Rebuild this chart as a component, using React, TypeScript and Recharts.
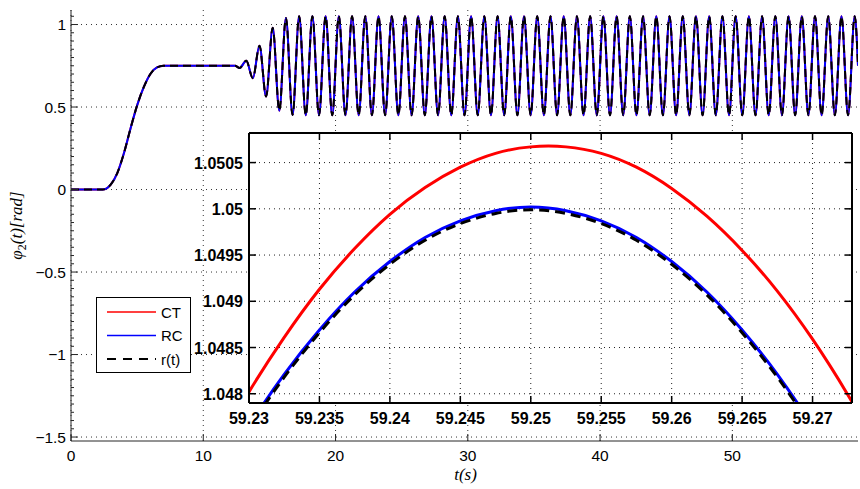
import { LineChart, Line, XAxis, YAxis, CartesianGrid, Label } from "recharts";

const FONT = "'Liberation Sans', Arial, Helvetica, sans-serif";
const MATH_FONT = "'Liberation Serif', 'Times New Roman', serif";

// full run of phi2(t): CT, RC and r(t) lie on top of each other at this scale
const rampTime = [0, 2.4, 3.0, 3.5, 4.0, 4.5, 5.0, 5.5, 6.0, 6.5, 7.0, 12.4];
const rampPhi = [0, 0, 0.03, 0.1, 0.22, 0.37, 0.51, 0.62, 0.7, 0.74, 0.75, 0.75];

// oscillation building up
const onsetTime = [12.75, 13.25, 13.75, 14.25, 14.75, 15.25, 15.75, 16.25, 16.75];
const onsetPhi = [0.737, 0.78, 0.675, 0.872, 0.564, 0.98, 0.478, 1.04, 0.452];

// steady oscillation, peaks and troughs
const steadyTime = [
  17.25, 17.75, 18.25, 18.75, 19.25, 19.75, 20.25, 20.75, 21.25, 21.75,
  22.25, 22.75, 23.25, 23.75, 24.25, 24.75, 25.25, 25.75, 26.25, 26.75,
  27.25, 27.75, 28.25, 28.75, 29.25, 29.75, 30.25, 30.75, 31.25, 31.75,
  32.25, 32.75, 33.25, 33.75, 34.25, 34.75, 35.25, 35.75, 36.25, 36.75,
  37.25, 37.75, 38.25, 38.75, 39.25, 39.75, 40.25, 40.75, 41.25, 41.75,
  42.25, 42.75, 43.25, 43.75, 44.25, 44.75, 45.25, 45.75, 46.25, 46.75,
  47.25, 47.75, 48.25, 48.75, 49.25, 49.75, 50.25, 50.75, 51.25, 51.75,
  52.25, 52.75, 53.25, 53.75, 54.25, 54.75, 55.25, 55.75, 56.25, 56.75,
  57.25, 57.75, 58.25, 58.75, 59.25, 59.5,
];
const steadyPhi = [
  1.05, 0.45, 1.05, 0.45, 1.05, 0.45, 1.05, 0.45, 1.05, 0.45,
  1.05, 0.45, 1.05, 0.45, 1.05, 0.45, 1.05, 0.45, 1.05, 0.45,
  1.05, 0.45, 1.05, 0.45, 1.05, 0.45, 1.05, 0.45, 1.05, 0.45,
  1.05, 0.45, 1.05, 0.45, 1.05, 0.45, 1.05, 0.45, 1.05, 0.45,
  1.05, 0.45, 1.05, 0.45, 1.05, 0.45, 1.05, 0.45, 1.05, 0.45,
  1.05, 0.45, 1.05, 0.45, 1.05, 0.45, 1.05, 0.45, 1.05, 0.45,
  1.05, 0.45, 1.05, 0.45, 1.05, 0.45, 1.05, 0.45, 1.05, 0.45,
  1.05, 0.45, 1.05, 0.45, 1.05, 0.45, 1.05, 0.45, 1.05, 0.45,
  1.05, 0.45, 1.05, 0.45, 1.05, 0.75,
];

// zoom on the last peak
const insetTime = [
  59.2275, 59.23, 59.2325, 59.235, 59.2375, 59.24, 59.2425, 59.245, 59.2475, 59.25,
  59.2525, 59.255, 59.2575, 59.26, 59.2625, 59.265, 59.2675, 59.27, 59.2725, 59.275,
];
const insetCT = [
  1.04736, 1.04802, 1.04861, 1.04913, 1.04957, 1.04994, 1.05023, 1.05045, 1.0506, 1.05067,
  1.05067, 1.0506, 1.05045, 1.05022, 1.04992, 1.04955, 1.04911, 1.04859, 1.04799, 1.04733,
];
const insetRC = [
  1.04702, 1.04765, 1.04821, 1.04869, 1.0491, 1.04943, 1.04969, 1.04987, 1.04998, 1.05002,
  1.04998, 1.04987, 1.04969, 1.04943, 1.0491, 1.04869, 1.04821, 1.04765, 1.04702, 1.04632,
];
const insetRef = [
  1.04699, 1.04762, 1.04818, 1.04866, 1.04907, 1.0494, 1.04966, 1.04984, 1.04995, 1.04999,
  1.04995, 1.04984, 1.04966, 1.0494, 1.04907, 1.04866, 1.04818, 1.04762, 1.04699, 1.04629,
];

const mainXTicks = [0, 10, 20, 30, 40, 50];
const mainXLabels = ["0", "10", "20", "30", "40", "50"];
const mainYTicks = [-1.5, -1, -0.5, 0, 0.5, 1];
const mainYLabels = ["\u22121.5", "\u22121", "\u22120.5", "0", "0.5", "1"];

const insetXTicks = [59.23, 59.235, 59.24, 59.245, 59.25, 59.255, 59.26, 59.265, 59.27];
const insetXLabels = ["59.23", "59.235", "59.24", "59.245", "59.25", "59.255", "59.26", "59.265", "59.27"];
const insetYTicks = [1.048, 1.0485, 1.049, 1.0495, 1.05, 1.0505];
const insetYLabels = ["1.048", "1.0485", "1.049", "1.0495", "1.05", "1.0505"];

const legendItems = [
  { name: "CT", color: "#ff0000", dash: undefined as string | undefined },
  { name: "RC", color: "#0000ff", dash: undefined as string | undefined },
  { name: "r(t)", color: "#000000", dash: "9 7" },
];

const allTime = [...rampTime, ...onsetTime, ...steadyTime];
const allPhi = [...rampPhi, ...onsetPhi, ...steadyPhi];
const mainData = allTime.map((t, i) => ({ t, phi: allPhi[i] }));

const insetData = insetTime.map((t, i) => ({ t, ct: insetCT[i], rc: insetRC[i], ref: insetRef[i] }));

// minor ticks on the left axis every 0.05
const mainYMinorTicks: number[] = [];
for (let k = -30; k <= 21; k++) mainYMinorTicks.push(Math.round(k * 5) / 100);

const AXIS = "#262626";

// ticks point into the plot, labels sit outside
const MainYTick = (props: any) => {
  const { x, y, payload } = props;
  const idx = mainYTicks.findIndex((v) => Math.abs(v - payload.value) < 1e-9);
  const ax = x + 5;
  return (
    <g>
      <line x1={ax} x2={ax + (idx >= 0 ? 7 : 3)} y1={y} y2={y} stroke={AXIS} />
      {idx >= 0 && (
        <text x={x} y={y + 5.5} textAnchor="end" fontFamily={FONT} fontSize={15.5} fill="#000">
          {mainYLabels[idx]}
        </text>
      )}
    </g>
  );
};

const MainXTick = (props: any) => {
  const { x, y, payload } = props;
  const idx = mainXTicks.indexOf(payload.value);
  const ay = y - 9;
  return (
    <g>
      <line x1={x} x2={x} y1={ay} y2={ay - 7} stroke={AXIS} />
      <text x={x} y={y + 11} textAnchor="middle" fontFamily={FONT} fontSize={15.5} fill="#000">
        {mainXLabels[idx]}
      </text>
    </g>
  );
};

const InsetYTick = (props: any) => {
  const { x, y, payload } = props;
  const idx = insetYTicks.findIndex((v) => Math.abs(v - payload.value) < 1e-9);
  const ax = x + 6;
  return (
    <g>
      <line x1={ax} x2={ax + 7} y1={y} y2={y} stroke="#000" strokeWidth={1.5} />
      <text x={x} y={y + 6} textAnchor="end" fontFamily={FONT} fontWeight="bold" fontSize={16} fill="#000">
        {insetYLabels[idx]}
      </text>
    </g>
  );
};

const InsetXTick = (props: any) => {
  const { x, y, payload } = props;
  const idx = insetXTicks.findIndex((v) => Math.abs(v - payload.value) < 1e-9);
  const ay = y - 9;
  return (
    <g>
      <line x1={x} x2={x} y1={ay} y2={ay - 7} stroke="#000" strokeWidth={1.5} />
      <text x={x} y={y + 12} textAnchor="middle" fontFamily={FONT} fontWeight="bold" fontSize={16} fill="#000">
        {insetXLabels[idx]}
      </text>
    </g>
  );
};

// top and right edges of the inset box only carry inward tick marks
const InsetTopTick = (props: any) => (
  <line x1={props.x} x2={props.x} y1={props.y} y2={props.y + 7} stroke="#000" strokeWidth={1.5} />
);

const InsetRightTick = (props: any) => (
  <line x1={props.x} x2={props.x - 7} y1={props.y} y2={props.y} stroke="#000" strokeWidth={1.5} />
);

const PhiTitle = (props: any) => {
  const { viewBox } = props;
  const cx = viewBox.x + 22;
  const cy = viewBox.y + viewBox.height / 2;
  return (
    <text
      x={cx}
      y={cy}
      transform={`rotate(-90 ${cx} ${cy})`}
      textAnchor="middle"
      fontFamily={MATH_FONT}
      fontStyle="italic"
      fontSize={17}
      fill="#000"
    >
      φ
      <tspan fontSize={12} fontStyle="normal" dy={4}>
        2
      </tspan>
      <tspan dy={-4}>(t)[rad]</tspan>
    </text>
  );
};

const TimeTitle = (props: any) => {
  const { viewBox } = props;
  return (
    <text
      x={viewBox.x + viewBox.width / 2 + 1}
      y={viewBox.y + 39}
      textAnchor="middle"
      fontFamily={MATH_FONT}
      fontStyle="italic"
      fontSize={17}
      fill="#000"
    >
      t(s)
    </text>
  );
};

const LegendBox = () => (
  <svg width={96} height={77} style={{ position: "absolute", left: 96, top: 297 }}>
    <rect x={0.5} y={0.5} width={94} height={75} fill="#fff" stroke="#000" />
    {legendItems.map((item, i) => {
      const cy = 15 + i * 23.5;
      return (
        <g key={item.name}>
          <line x1={11} x2={60} y1={cy} y2={cy} stroke={item.color} strokeWidth={item.dash ? 2 : 1.6} strokeDasharray={item.dash} />
          <text x={65} y={cy + 5.5} fontFamily={FONT} fontSize={15} fill="#000">
            {item.name}
          </text>
        </g>
      );
    })}
  </svg>
);

export default function App() {
  return (
    <div style={{ position: "absolute", left: 0, top: 0, width: 860, height: 489, background: "#fff" }}>
      <LineChart width={860} height={489} data={mainData} margin={{ top: 10, right: 2, bottom: 18, left: 0 }}>
        <CartesianGrid
          horizontalValues={mainYTicks}
          verticalValues={mainXTicks}
          stroke="#333"
          strokeDasharray="1 4"
        />
        <XAxis
          dataKey="t"
          type="number"
          domain={[0, 59.5]}
          ticks={mainXTicks}
          interval={0}
          height={30}
          tickLine={false}
          tickSize={0}
          tickMargin={9}
          axisLine={{ stroke: AXIS }}
          tick={MainXTick}
          allowDataOverflow
        >
          <Label content={TimeTitle} />
        </XAxis>
        <YAxis
          type="number"
          domain={[-1.524, 1.088]}
          ticks={mainYMinorTicks}
          interval={0}
          width={71}
          tickLine={false}
          tickSize={0}
          tickMargin={5}
          axisLine={{ stroke: AXIS }}
          tick={MainYTick}
          allowDataOverflow
        >
          <Label content={PhiTitle} />
        </YAxis>
        <Line type="monotone" dataKey="phi" stroke="#ff0000" strokeWidth={2} dot={false} isAnimationActive={false} />
        <Line type="monotone" dataKey="phi" stroke="#0000ff" strokeWidth={2} dot={false} isAnimationActive={false} />
        <Line
          type="monotone"
          dataKey="phi"
          stroke="#000"
          strokeWidth={2}
          strokeDasharray="8 5"
          dot={false}
          isAnimationActive={false}
        />
      </LineChart>

      <div style={{ position: "absolute", left: 185, top: 127 }}>
        <LineChart width={673} height={310} data={insetData} margin={{ top: 5, right: 5, bottom: 6, left: 6 }}>
          <CartesianGrid
            horizontalValues={insetYTicks}
            verticalValues={insetXTicks}
            fill="#fff"
            fillOpacity={1}
            stroke="#222"
            strokeDasharray="1 4"
          />
          <XAxis
            dataKey="t"
            type="number"
            domain={[59.23, 59.2728]}
            ticks={insetXTicks}
            interval={0}
            height={28}
            tickLine={false}
            tickSize={0}
            tickMargin={9}
            axisLine={{ stroke: "#000", strokeWidth: 2 }}
            tick={InsetXTick}
            allowDataOverflow
          />
          <XAxis
            xAxisId="top"
            orientation="top"
            dataKey="t"
            type="number"
            domain={[59.23, 59.2728]}
            ticks={insetXTicks}
            interval={0}
            height={1}
            tickLine={false}
            tickSize={0}
            tickMargin={0}
            axisLine={{ stroke: "#000", strokeWidth: 2 }}
            tick={InsetTopTick}
            allowDataOverflow
          />
          <YAxis
            type="number"
            domain={[1.0479, 1.05082]}
            ticks={insetYTicks}
            interval={0}
            width={58}
            tickLine={false}
            tickSize={0}
            tickMargin={6}
            axisLine={{ stroke: "#000", strokeWidth: 2 }}
            tick={InsetYTick}
            allowDataOverflow
          />
          <YAxis
            yAxisId="right"
            orientation="right"
            type="number"
            domain={[1.0479, 1.05082]}
            ticks={insetYTicks}
            interval={0}
            width={1}
            tickLine={false}
            tickSize={0}
            tickMargin={0}
            axisLine={{ stroke: "#000", strokeWidth: 2 }}
            tick={InsetRightTick}
            allowDataOverflow
          />
          <Line type="natural" dataKey="ct" stroke="#ff0000" strokeWidth={3} dot={false} isAnimationActive={false} />
          <Line type="natural" dataKey="rc" stroke="#0000ff" strokeWidth={3} dot={false} isAnimationActive={false} />
          <Line
            type="natural"
            dataKey="ref"
            stroke="#000"
            strokeWidth={3}
            strokeDasharray="10 6"
            dot={false}
            isAnimationActive={false}
          />
        </LineChart>
      </div>

      <LegendBox />
    </div>
  );
}
